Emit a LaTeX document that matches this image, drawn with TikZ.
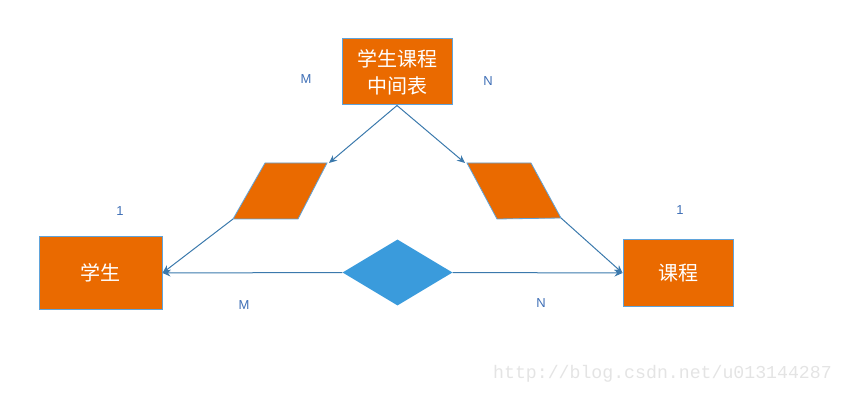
\documentclass[tikz,border=0pt]{standalone}
\usepackage{fontspec}
\setmainfont{Liberation Sans}
\newfontfamily\cjk{Noto Sans CJK SC}
\newfontfamily\wmfont{Liberation Mono}
\usetikzlibrary{arrows.meta,shapes.geometric}
\definecolor{boxorange}{HTML}{EA6A00}
\definecolor{boxedge}{HTML}{5FA3DA}
\definecolor{diablue}{HTML}{3A9BDC}
\definecolor{linecol}{HTML}{3B79AC}
\definecolor{labcol}{HTML}{3F6FB6}
\definecolor{wmcol}{HTML}{E4E4E4}
\begin{document}
\begin{tikzpicture}[x=1pt,y=-1pt,
  entity/.style={draw=boxedge,line width=1pt,fill=boxorange,text=white,font=\cjk\fontsize{20}{27}\selectfont,align=center},
  rel/.style={draw=boxedge,line width=0.8pt,fill=boxorange},
  conn/.style={draw=linecol,line width=1pt,-{Stealth[length=8pt,width=7pt]}},
  card/.style={text=labcol,font=\fontsize{13}{15}\selectfont}]
\useasboundingbox (0,0) rectangle (845,403);
% entities
\node[entity,minimum width=110pt,minimum height=66pt,inner sep=0pt] (mid) at (397,72) {学生课程\\中间表};
\node[entity,minimum width=123pt,minimum height=72pt,inner sep=0pt] (stu) at (100.5,273) {学生};
\node[entity,minimum width=110pt,minimum height=66pt,inner sep=0pt] (cou) at (678,273) {课程};
% diamond
\node[diamond,fill=diablue,draw=none,minimum width=110pt,minimum height=66pt,inner sep=0pt,aspect=1.67] (dia) at (397.5,272.5) {};
% parallelograms
\draw[rel] (265,163) -- (327,163) -- (298,219) -- (233,219) coordinate (lpBL) -- cycle;
\draw[rel] (467,163) -- (531,163) -- (561,218) coordinate (rpBR) -- (497,219) -- cycle;
\coordinate (lpIn) at (329,163);
\coordinate (rpIn) at (465,163);
% connectors
\draw[conn] (mid.south) -- (lpIn);
\draw[conn] (mid.south) -- (rpIn);
\draw[conn] (lpBL) -- (stu.east);
\draw[conn] (rpBR) -- (cou.west);
\draw[conn] (dia.west) -- (stu.east);
\draw[conn] (dia.east) -- (cou.west);
% cardinalities
\node[card] (m1) at (306,79) {M};
\node[card] (n1) at (488,81) {N};
\node[card] (o1) at (120,211) {1};
\node[card] (o2) at (680,210) {1};
\node[card] (m2) at (244,305) {M};
\node[card] (n2) at (541,303) {N};
% watermark
\node[text=wmcol,font=\wmfont\fontsize{18.2}{20}\selectfont,anchor=west,inner sep=0pt] (wm) at (493,374) {http://blog.csdn.net/u013144287};
\end{tikzpicture}
\end{document}
